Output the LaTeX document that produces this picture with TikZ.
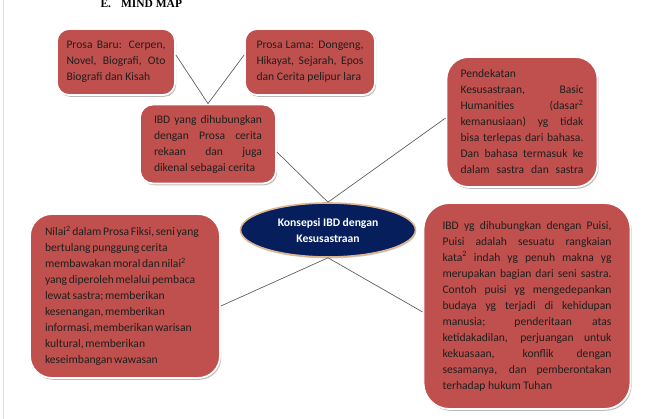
\documentclass[tikz,border=0pt]{standalone}
\usepackage{fontspec}
\setmainfont{Carlito}
\newfontfamily\headfont{Liberation Serif}
\usetikzlibrary{shapes.geometric, positioning, shadows}
\definecolor{boxRed}{RGB}{192, 80, 77}
\definecolor{coreNavy}{RGB}{6, 30, 92}
\definecolor{rimTan}{RGB}{222, 180, 142}
\definecolor{linkGray}{RGB}{95, 95, 95}
\newcommand{\tightwords}{\spaceskip=1.7pt plus 1pt\relax}

\begin{document}
\begin{tikzpicture}[
        x=1pt, y=1pt,
        font=\fontsize{11.6}{16}\selectfont,
        topic/.style={rectangle, draw=white, line width=1.8pt, fill=boxRed, rounded corners=12pt, inner sep=0pt, align=justify, text=black!88, drop shadow={shadow xshift=1.2pt, shadow yshift=-1.8pt, fill=black!50, opacity=0.55}},
        core/.style={ellipse, draw=rimTan, line width=1.6pt, fill=coreNavy, text=white, font=\fontsize{11.6}{16}\selectfont\bfseries, align=center, inner sep=0pt, minimum width=175pt, minimum height=54pt, drop shadow={shadow xshift=0.6pt, shadow yshift=-1.4pt, fill=black!40, opacity=0.5}},
        link/.style={draw=linkGray, line width=0.7pt}
    ]
        \useasboundingbox (0,0) rectangle (645,419);
        \draw[gray!25, line width=0.6pt] (3,0) -- (3,419);
        \node[anchor=base west, font=\headfont\bfseries\fontsize{11.5}{14}\selectfont] (title) at (97,411) {E.\hspace{10pt}MIND MAP};
        % upper branches
        \node[topic, minimum width=118pt, minimum height=66pt, text width=99pt] (baru) at (116,357) {Prosa Baru: Cerpen,\linebreak Novel, Biografi, Oto\linebreak Biografi dan Kisah};
        \node[topic, minimum width=130pt, minimum height=66pt, text width=107pt] (lama) at (310,357) {Prosa Lama: Dongeng,\linebreak Hikayat, Sejarah, Epos\linebreak dan Cerita pelipur lara};
        \node[topic, minimum width=136pt, minimum height=79pt, text width=108pt, rounded corners=13pt] (prosa) at (208,275) {IBD yang dihubungkan\linebreak dengan Prosa cerita\linebreak rekaan dan juga\linebreak dikenal sebagai cerita};
        \node[topic, minimum width=151pt, minimum height=130pt, text width=123pt, rounded corners=22pt] (pendekatan) at (522,297) {Pendekatan\linebreak Kesusastraan, Basic\linebreak Humanities (dasar\textsuperscript{2}\linebreak kemanusiaan) yg tidak\linebreak bisa terlepas dari bahasa.\linebreak Dan bahasa termasuk ke\linebreak \makebox[123pt][s]{dalam sastra dan sastra}};
        % centre
        \node[core] (konsep) at (328,189) {Konsepsi IBD dengan\\Kesusastraan};
        % lower branches
        \node[topic, minimum width=190pt, minimum height=164pt, text width=160pt, rounded corners=22pt, align=left] (nilai) at (125,123) {\tightwords Nilai\textsuperscript{2} dalam Prosa Fiksi, seni yang\\bertulang punggung cerita\\membawakan moral dan nilai\textsuperscript{2}\\yang diperoleh melalui pembaca\\lewat sastra; memberikan\\kesenangan, memberikan\\informasi, memberikan warisan\\kultural, memberikan\\keseimbangan wawasan};
        \node[topic, minimum width=207pt, minimum height=206pt, text width=169pt, rounded corners=26pt] (puisi) at (527,113) {IBD yg dihubungkan dengan Puisi,\linebreak Puisi adalah sesuatu rangkaian\linebreak kata\textsuperscript{2} indah yg penuh makna yg\linebreak merupakan bagian dari seni sastra.\linebreak Contoh puisi yg mengedepankan\linebreak budaya yg terjadi di kehidupan\linebreak manusia; penderitaan atas\linebreak ketidakadilan, perjuangan untuk\linebreak kekuasaan, konflik dengan\linebreak sesamanya, dan pemberontakan\linebreak terhadap hukum Tuhan};
        % connectors
        \draw[link] ([yshift=7pt]baru.east) -- (prosa.north);
        \draw[link] ([yshift=7pt]lama.west) -- (prosa.north);
        \draw[link] ([yshift=-8pt]prosa.east) -- (konsep.north);
        \draw[link] ([yshift=4pt]pendekatan.west) -- (konsep.north);
        \draw[link] (konsep.south) -- ([yshift=-10pt]nilai.east);
        \draw[link] (konsep.south) -- ([yshift=-6pt]puisi.west);
    \end{tikzpicture}
\end{document}
